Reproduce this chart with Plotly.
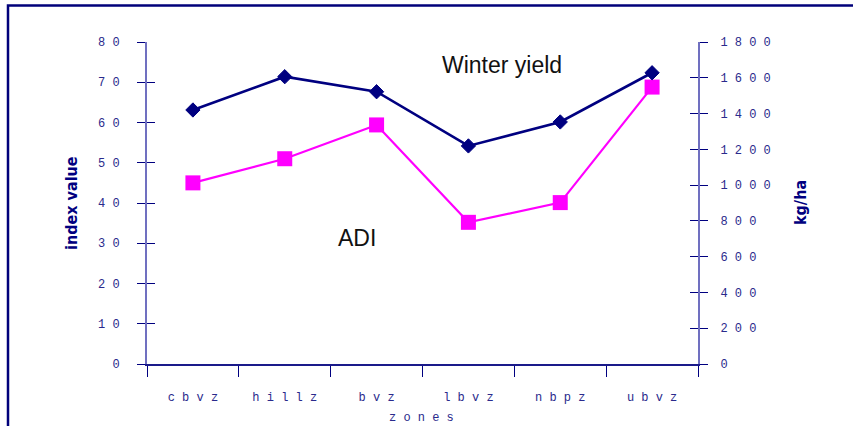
import plotly.graph_objects as go

# Zones along the x axis
zones = ["cbvz", "hillz", "bvz", "lbvz", "nbpz", "ubvz"]

# ADI index value (left axis)
adi = [45, 51, 59.4, 35.2, 40.1, 68.8]

# Winter yield in kg/ha (right axis)
winter_yield = [1420, 1606, 1522, 1219, 1353, 1628]

# Axis ticks
index_ticks = [0, 10, 20, 30, 40, 50, 60, 70, 80]
yield_ticks = [0, 200, 400, 600, 800, 1000, 1200, 1400, 1600, 1800]

NAVY = "#000080"
TICK_TXT = "#2a2a8c"
MONO = "Liberation Mono, Courier New, monospace"


def spaced(s):
    return " ".join(str(s))


zone_labels = [spaced(z) for z in zones]

fig = go.Figure()

fig.add_trace(go.Scatter(
    x=zone_labels, y=winter_yield, yaxis="y2", mode="lines+markers",
    name="Winter yield",
    line=dict(color=NAVY, width=2.6),
    marker=dict(symbol="diamond", size=11, color=NAVY,
                line=dict(color=NAVY, width=1)),
))
fig.add_trace(go.Scatter(
    x=zone_labels, y=adi, yaxis="y", mode="lines+markers",
    name="ADI",
    line=dict(color="#ff00ff", width=2.2),
    marker=dict(symbol="square", size=15, color="#ff00ff"),
))

tick_font = dict(family=MONO, size=12, color=TICK_TXT)

fig.update_layout(
    width=853, height=426,
    margin=dict(l=147, r=155, t=42, b=62),
    paper_bgcolor="white", plot_bgcolor="white",
    showlegend=False,
    xaxis=dict(
        type="category", range=[-0.5, len(zones) - 0.5],
        tickson="boundaries", ticks="outside", ticklen=11, tickwidth=1,
        tickcolor=NAVY, showline=True, linecolor="#1a1a8a", linewidth=1.5,
        showgrid=False, zeroline=False, tickfont=tick_font,
        ticklabelstandoff=21,
    ),
    yaxis=dict(
        range=[0, 80], tickmode="array", tickvals=index_ticks,
        ticktext=[spaced(v) for v in index_ticks],
        ticks="outside", ticklen=8, tickwidth=1, tickcolor=NAVY,
        showline=True, linecolor="#7070c0", linewidth=2,
        showgrid=False, zeroline=False, tickfont=tick_font,
        ticklabelstandoff=15,
    ),
    yaxis2=dict(
        range=[0, 1800], overlaying="y", side="right", tickmode="array",
        tickvals=yield_ticks, ticktext=[spaced(v) for v in yield_ticks],
        ticks="outside", ticklen=8, tickwidth=1, tickcolor=NAVY,
        showline=True, linecolor="#7070c0", linewidth=2,
        showgrid=False, zeroline=False, tickfont=tick_font,
        ticklabelstandoff=10,
    ),
    # inner halves of the crossing tick marks
    yaxis3=dict(
        range=[0, 80], overlaying="y", side="left", tickmode="array",
        tickvals=index_ticks, ticks="inside", ticklen=8, tickwidth=1,
        tickcolor=NAVY, showticklabels=False, showgrid=False,
        zeroline=False, showline=False,
    ),
    yaxis4=dict(
        range=[0, 1800], overlaying="y", side="right", tickmode="array",
        tickvals=yield_ticks, ticks="inside", ticklen=8, tickwidth=1,
        tickcolor=NAVY, showticklabels=False, showgrid=False,
        zeroline=False, showline=False,
    ),
)

# empty traces so the inner-tick axes are drawn
fig.add_trace(go.Scatter(x=[], y=[], yaxis="y3", showlegend=False, hoverinfo="skip"))
fig.add_trace(go.Scatter(x=[], y=[], yaxis="y4", showlegend=False, hoverinfo="skip"))

PW, PH = 853 - 147 - 155, 426 - 42 - 62


def px(x):
    return (x - 147) / PW


def py(y):
    return (364 - y) / PH


title_font = dict(family="Liberation Sans Narrow, DejaVu Sans Condensed, Arial Narrow, sans-serif",
                  size=16, color=NAVY)

fig.add_annotation(text="<b>index value</b>", xref="paper", yref="paper",
                   x=px(71), y=py(203), textangle=-90, showarrow=False,
                   font=title_font, xanchor="center", yanchor="middle")
fig.add_annotation(text="<b>kg/ha</b>", xref="paper", yref="paper",
                   x=px(800), y=py(203), textangle=-90, showarrow=False,
                   font=title_font, xanchor="center", yanchor="middle")
fig.add_annotation(text=spaced("zones"), xref="paper", yref="paper",
                   x=px(421), y=py(418), showarrow=False,
                   font=tick_font, xanchor="center", yanchor="middle")

label_font = dict(family="Liberation Sans, Arial, sans-serif", size=23, color="#111111")
fig.add_annotation(text="Winter yield", xref="paper", yref="paper",
                   x=px(502), y=py(65), showarrow=False, font=label_font,
                   xanchor="center", yanchor="middle")
fig.add_annotation(text="ADI", xref="paper", yref="paper",
                   x=px(357), y=py(238), showarrow=False, font=label_font,
                   xanchor="center", yanchor="middle")

# outer frame (top and left edges visible)
fig.add_shape(type="rect", xref="paper", yref="paper",
              x0=px(8), x1=px(900), y0=py(480), y1=py(5.5),
              line=dict(color="#00007a", width=2.5), layer="below")

fig.write_html("out.html")
